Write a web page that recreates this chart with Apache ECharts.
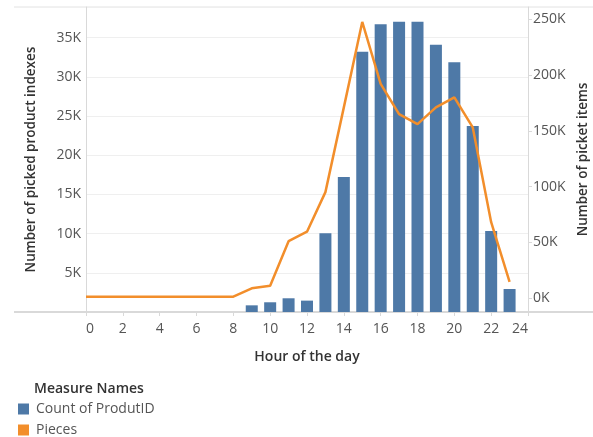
<!DOCTYPE html>
<html>
<head>
<meta charset="utf-8">
<script src="https://cdn.jsdelivr.net/npm/echarts@6/dist/echarts.min.js"></script>
<style>
html,body{margin:0;padding:0;background:#fff;}
#c{width:593px;height:437px;}
</style>
</head>
<body>
<div id="c"></div>
<script>
const hours = [0,1,2,3,4,5,6,7,8,9,10,11,12,13,14,15,16,17,18,19,20,21,22,23];
const barHours = [9,10,11,12,13,14,15,16,17,18,19,20,21,22,23];
const countProdutID = [850,1240,1750,1450,10040,17220,33200,36700,37030,37030,34090,31850,23720,10330,2930];
const pieces = [1200,1200,1200,1200,1200,1200,1200,1200,1200,8700,11000,51000,59500,95000,171000,247600,192000,165000,156000,171000,180000,153000,68000,14600];
const xTicks = [0,2,4,6,8,10,12,14,16,18,20,22,24];
const rightTicks = [0,50000,100000,150000,200000,250000];

const font = "'Open Sans', 'Noto Sans', sans-serif";
const chart = echarts.init(document.getElementById('c'), null, {renderer:'canvas'});

chart.setOption({
  backgroundColor:'#ffffff',
  animation:false,
  textStyle:{fontFamily:font},
  title:{
    text:'Measure Names', left:30, top:382, padding:[0,0,0,4],
    textStyle:{fontFamily:font,fontSize:14,fontWeight:600,color:'#333'}
  },
  legend:{
    orient:'vertical', left:18, top:402, padding:0, height:40,
    itemWidth:11, itemHeight:11, itemGap:7,
    textStyle:{fontFamily:font,fontSize:14,color:'#555',padding:[0,0,0,2]},
    data:[{name:'Count of ProdutID',icon:'rect'},{name:'Pieces',icon:'rect'}]
  },
  grid:{left:86,right:65,top:7,bottom:125,containLabel:false,outerBoundsMode:'none'},
  graphic:[
    {type:'line',shape:{x1:14,y1:7,x2:593,y2:7},style:{stroke:'#e2e2e2',lineWidth:1},silent:true},
    {type:'line',shape:{x1:14,y1:312,x2:593,y2:312},style:{stroke:'#d9d9d9',lineWidth:2},silent:true}
  ],
  xAxis:{
    type:'value', min:0, max:24, interval:2,
    name:'Hour of the day', nameLocation:'middle', nameGap:38,
    nameTextStyle:{fontFamily:font,fontSize:14,fontWeight:600,color:'#333'},
    axisLine:{show:true,lineStyle:{color:'#d9d9d9',width:2}},
    axisTick:{show:true,length:4,lineStyle:{color:'#d9d9d9'}},
    axisLabel:{color:'#555',fontSize:14,margin:10,fontFamily:font,
      customValues:xTicks, alignMinLabel:'left', alignMaxLabel:'right'},
    splitLine:{show:false}
  },
  yAxis:[
    {
      type:'value', min:0, max:38900, interval:5000, position:'left',
      name:'Number of picked product indexes', nameLocation:'middle', nameGap:48,
      nameTextStyle:{fontFamily:font,fontSize:13.5,fontWeight:600,color:'#333'},
      axisLine:{show:true,lineStyle:{color:'#d9d9d9'}},
      axisTick:{show:false},
      axisLabel:{color:'#555',fontSize:14,margin:5,fontFamily:font,
        formatter:v=> (v>0 && v%5000===0) ? (v/1000)+'K' : ''},
      splitLine:{show:true,lineStyle:{color:'#efefef',width:1}}
    },
    {
      type:'value', min:-12500, max:261000, position:'right',
      name:'Number of picket items', nameLocation:'middle', nameGap:48,
      nameRotate:90,
      nameTextStyle:{fontFamily:font,fontSize:13.5,fontWeight:600,color:'#333'},
      axisLine:{show:true,lineStyle:{color:'#d9d9d9'}},
      axisTick:{show:true,length:4,lineStyle:{color:'#d9d9d9'},customValues:rightTicks},
      axisLabel:{color:'#555',fontSize:14,margin:5,fontFamily:font,customValues:rightTicks,
        formatter:v=> (v%50000===0) ? (v/1000)+'K' : ''},
      splitLine:{show:false}
    }
  ],
  series:[
    {
      name:'Count of ProdutID', type:'bar', yAxisIndex:0, barWidth:12,
      itemStyle:{color:'#4e79a7'},
      data: barHours.map((h,i)=>[h,countProdutID[i]])
    },
    {
      name:'Pieces', type:'line', yAxisIndex:1, symbol:'none',
      lineStyle:{color:'#f28e2b',width:2.5},
      itemStyle:{color:'#f28e2b'},
      data: hours.map((h,i)=>[h,pieces[i]])
    }
  ]
});
</script>
</body>
</html>
